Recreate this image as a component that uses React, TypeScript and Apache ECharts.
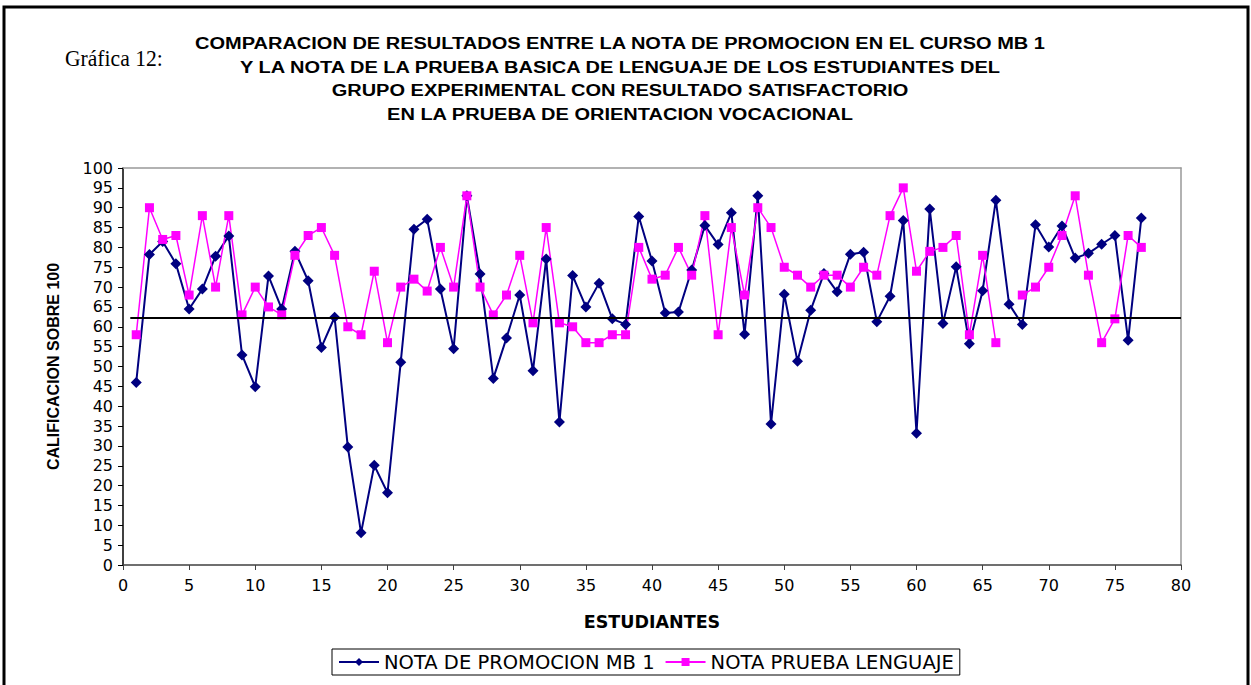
import React, { useEffect, useRef } from "react";
import * as echarts from "echarts";

const titleLines = [
  "COMPARACION DE RESULTADOS ENTRE LA NOTA DE PROMOCION EN EL CURSO MB 1",
  "Y LA NOTA DE LA PRUEBA BASICA DE LENGUAJE DE LOS ESTUDIANTES DEL",
  "GRUPO EXPERIMENTAL CON RESULTADO SATISFACTORIO",
  "EN LA PRUEBA DE ORIENTACION VOCACIONAL",
];
const chartLabel = "Gráfica 12:";
const xAxisName = "ESTUDIANTES";
const yAxisName = "CALIFICACION SOBRE 100";
const seriesNames = ["NOTA DE PROMOCION MB 1", "NOTA PRUEBA LENGUAJE"];

const notaPromocion = [
  46, 78.2, 81.5, 75.9, 64.5, 69.5, 77.8, 82.9, 52.9, 44.9,
  72.8, 64.5, 79, 71.6, 54.8, 62.4, 29.7, 8.1, 25.1, 18.2,
  51.1, 84.6, 87.1, 69.5, 54.5, 93, 73.3, 47, 57.2, 68,
  48.9, 77.1, 36, 72.9, 65, 71, 62, 60.6, 87.8, 76.6,
  63.5, 63.7, 74.3, 85.5, 80.7, 88.7, 58.1, 93, 35.5, 68.2,
  51.3, 64.2, 73.4, 68.8, 78.3, 78.8, 61.3, 67.7, 86.8, 33.2,
  89.7, 60.8, 75.1, 55.7, 69.1, 91.9, 65.7, 60.6, 85.7, 80.1,
  85.4, 77.3, 78.5, 80.8, 83, 56.6, 87.4,
];

const notaLenguaje: (number | null)[] = [
  58, 90, 82, 83, 68, 88, 70, 88, 63, 70,
  65, 63, 78, 83, 85, 78, 60, 58, 74, 56,
  70, 72, 69, 80, 70, 93, 70, 63, 68, 78,
  61, 85, 61, 60, 56, 56, 58, 58, 80, 72,
  73, 80, 73, 88, 58, 85, 68, 90, 85, 75,
  73, 70, 73, 73, 70, 75, 73, 88, 95, 74,
  79, 80, 83, 58, 78, 56, null, 68, 70, 75,
  83, 93, 73, 56, 62, 83, 80,
];

const referenceValue = 62.3;
const referenceFrom = 0.55;
const referenceTo = 80;

const xMin = 0;
const xMax = 80;
const xInterval = 5;
const yMin = 0;
const yMax = 100;
const yInterval = 5;

export default function App() {
  const ref = useRef<HTMLDivElement>(null);

  useEffect(() => {
    document.body.style.margin = "0";
    if (!ref.current) return;
    const chart = echarts.init(ref.current, null, { renderer: "svg" });

    const toPairs = (arr: (number | null)[]) =>
      arr.map((v, i) => [i + 1, v === null ? "-" : v]);

    const labelFont = {
      fontFamily: "DejaVu Sans",
      fontSize: 16,
      color: "#000",
    };

    const titleGraphics = titleLines.map((t, i) => ({
      type: "text",
      x: 620,
      y: 44 + i * 23.5,
      scaleX: 1.25,
      style: {
        text: t,
        fill: "#000",
        font: "bold 16px 'Liberation Sans', Arial, sans-serif",
        textAlign: "center",
        textVerticalAlign: "middle",
      },
    }));

    chart.setOption({
      animation: false,
      backgroundColor: "#fff",
      grid: { left: 123, right: 70, top: 168, bottom: 120, containLabel: false },
      xAxis: [
        {
          type: "value",
          min: xMin,
          max: xMax,
          interval: xInterval,
          name: xAxisName,
          nameLocation: "middle",
          nameGap: 48,
          nameTextStyle: {
            fontFamily: "DejaVu Sans",
            fontWeight: "bold",
            fontSize: 17.5,
            color: "#000",
          },
          axisLine: { show: true, onZero: false, lineStyle: { color: "#404040", width: 1.5 } },
          axisTick: { show: true, inside: false, length: 5, lineStyle: { color: "#404040" } },
          axisLabel: { ...labelFont, margin: 12 },
          splitLine: { show: false },
        },
        {
          type: "value",
          position: "top",
          min: xMin,
          max: xMax,
          axisLine: { show: true, onZero: false, lineStyle: { color: "#999", width: 1.5 } },
          axisTick: { show: false },
          axisLabel: { show: false },
          splitLine: { show: false },
        },
      ],
      yAxis: [
        {
          type: "value",
          min: yMin,
          max: yMax,
          interval: yInterval,
          name: yAxisName,
          nameLocation: "middle",
          nameRotate: 90,
          nameGap: 62,
          nameTextStyle: {
            fontFamily: "'Liberation Sans', Arial",
            fontWeight: "bold",
            fontSize: 16,
            color: "#000",
          },
          axisLine: { show: true, onZero: false, lineStyle: { color: "#000", width: 1.5 } },
          axisTick: { show: true, inside: false, length: 5, lineStyle: { color: "#000" } },
          axisLabel: { ...labelFont, margin: 10 },
          splitLine: { show: false },
        },
        {
          type: "value",
          position: "right",
          min: yMin,
          max: yMax,
          axisLine: { show: true, onZero: false, lineStyle: { color: "#999", width: 1.5 } },
          axisTick: { show: false },
          axisLabel: { show: false },
          splitLine: { show: false },
        },
      ],
      legend: {
        left: 332,
        top: 649,
        orient: "horizontal",
        borderColor: "#000",
        borderWidth: 1,
        borderRadius: 0,
        padding: [3, 6, 3, 6],
        itemGap: 10,
        itemWidth: 40,
        itemHeight: 10,
        textStyle: { fontFamily: "DejaVu Sans", fontSize: 19.5, color: "#000", padding: [0, 0, 0, 0] },
        data: seriesNames,
      },
      series: [
        {
          name: seriesNames[0],
          type: "line",
          data: toPairs(notaPromocion),
          symbol: "diamond",
          symbolSize: 11,
          color: "#000080",
          lineStyle: { color: "#000080", width: 2 },
          itemStyle: { color: "#000080" },
          markLine: {
            silent: true,
            symbol: ["none", "none"],
            label: { show: false },
            lineStyle: { color: "#000", width: 2, type: "solid" },
            data: [[{ coord: [referenceFrom, referenceValue] }, { coord: [referenceTo, referenceValue] }]],
          },
        },
        {
          name: seriesNames[1],
          type: "line",
          data: toPairs(notaLenguaje),
          connectNulls: false,
          symbol: "rect",
          symbolSize: 9,
          color: "#FF00FF",
          lineStyle: { color: "#FF00FF", width: 1.5 },
          itemStyle: { color: "#FF00FF" },
        },
      ],
      graphic: [
        {
          type: "rect",
          shape: { x: 4, y: 7, width: 1244, height: 700 },
          style: { fill: "none", stroke: "#000", lineWidth: 3 },
          silent: true,
        },
        {
          type: "text",
          x: 65,
          y: 58,
          scaleX: 0.9,
          style: {
            text: chartLabel,
            fill: "#000",
            font: "24px 'Liberation Serif', 'Times New Roman', serif",
            textAlign: "left",
            textVerticalAlign: "middle",
          },
        },
        ...titleGraphics,
      ],
    });

    return () => chart.dispose();
  }, []);

  return <div ref={ref} style={{ width: 1251, height: 685 }} />;
}
